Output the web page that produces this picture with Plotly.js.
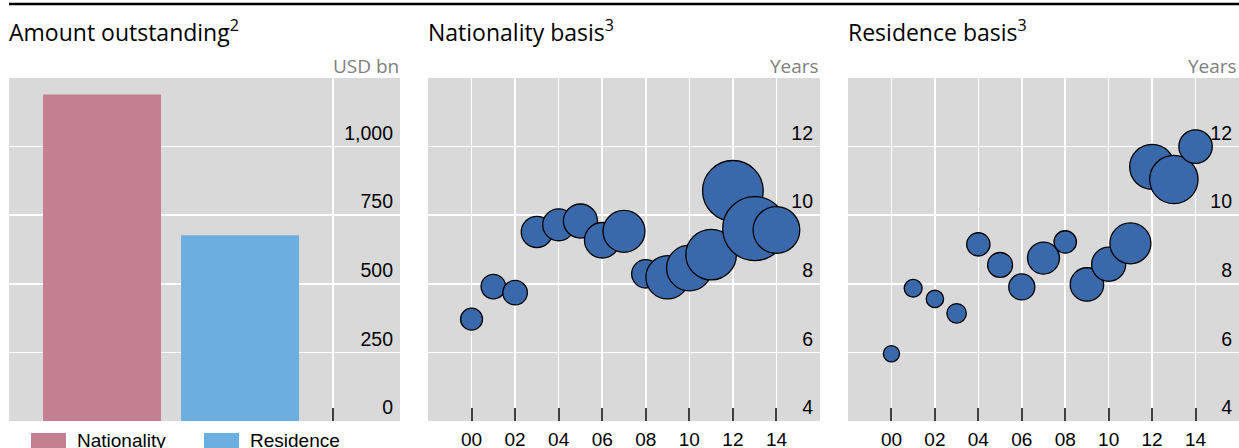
<!DOCTYPE html>
<html>
<head>
<meta charset="utf-8">
<script src="https://cdn.plot.ly/plotly-3.0.1.min.js"></script>
<style>html,body{margin:0;padding:0;background:#fff;}#chart{width:1239px;height:448px;}</style>
</head>
<body>
<div id="chart"></div>
<script>
// ---- Data ----
const amountCategories = ["Nationality", "Residence"];
const amountOutstanding = [1190, 677];          // USD bn

const years = [2000, 2001, 2002, 2003, 2004, 2005, 2006, 2007, 2008, 2009, 2010, 2011, 2012, 2013, 2014];
const nationalityMaturity = [6.97, 7.92, 7.74, 9.51, 9.72, 9.83, 9.27, 9.53, 8.29, 8.19, 8.46, 8.85, 10.71, 9.61, 9.57]; // years
const nationalityIssuance = [24, 30, 30, 49, 51, 58, 63, 88, 40, 94, 104, 128, 184, 205, 109];                          // bubble size
const residenceMaturity = [5.96, 7.87, 7.56, 7.14, 9.15, 8.55, 7.91, 8.75, 9.22, 7.98, 8.57, 9.18, 11.41, 11.04, 12.0];
const residenceIssuance = [13, 16, 15, 19, 27, 31, 34, 51, 25, 56, 58, 84, 101, 117, 56];

const amountTicks = [0, 250, 500, 750, 1000];
const maturityTicks = [4, 6, 8, 10, 12];
const yearTicks = [2000, 2002, 2004, 2006, 2008, 2010, 2012, 2014];
const yearTickText = yearTicks.map(y => String(y).slice(2));

// ---- Styles ----
const W = 1239, H = 448;
const barColors = ["#c48090", "#6caee0"];
const colBubble = "#3969ab";
const bg = "#d9d9d9";
const tickFont = {family: "Liberation Sans, Arial, sans-serif", size: 19.5, color: "#000"};
const legendFont = {family: "Liberation Sans, Arial, sans-serif", size: 19, color: "#000"};
const titleFont = {family: "Open Sans, sans-serif", size: 23, color: "#000"};
const unitFont = {family: "Open Sans, sans-serif", size: 19, color: "#808080"};

const yDom = [1 - 421 / H, 1 - 78 / H];
const px = v => v / W;
const py = v => 1 - v / H;

const bubbleMarker = (sizes) => ({
  size: sizes, sizemode: "area", sizeref: 0.1,
  color: colBubble, opacity: 1,
  line: {color: "#000", width: 1.3}
});

const traces = [
  {type: "bar", name: amountCategories[0], x: [0], y: [amountOutstanding[0]], width: 0.855,
   marker: {color: barColors[0]}, xaxis: "x", yaxis: "y", hoverinfo: "y", showlegend: false},
  {type: "bar", name: amountCategories[1], x: [1], y: [amountOutstanding[1]], width: 0.855,
   marker: {color: barColors[1]}, xaxis: "x", yaxis: "y", hoverinfo: "y", showlegend: false},
  {type: "scatter", mode: "markers", name: "Nationality basis", x: years, y: nationalityMaturity,
   marker: bubbleMarker(nationalityIssuance), xaxis: "x2", yaxis: "y2", showlegend: false, cliponaxis: true},
  {type: "scatter", mode: "markers", name: "Residence basis", x: years, y: residenceMaturity,
   marker: bubbleMarker(residenceIssuance), xaxis: "x3", yaxis: "y3", showlegend: false, cliponaxis: true}
];

const baseX = {
  showgrid: true, gridcolor: "#fff", gridwidth: 1.5, zeroline: false,
  showline: true, linecolor: "#fff", linewidth: 2,
  ticks: "inside", ticklen: 13, tickwidth: 2, tickcolor: "#404040",
  tickfont: legendFont, fixedrange: true
};
const baseY = {
  domain: yDom, side: "right", showgrid: true, gridcolor: "#fff", gridwidth: 1.5,
  zeroline: false, showline: false, ticks: "", ticklabelposition: "inside top",
  ticklabelstandoff: 4, ticklabelshift: -1.5,
  tickfont: tickFont, fixedrange: true
};

// legend (drawn as swatches + labels below the first panel)
const legendSwatchX = [31, 204];
const legendShapes = amountCategories.map((c, i) => ({
  type: "rect", xref: "paper", yref: "paper",
  x0: px(legendSwatchX[i]), x1: px(legendSwatchX[i] + 35), y0: py(448), y1: py(433),
  fillcolor: barColors[i], line: {width: 0}
}));
const legendLabels = amountCategories.map((c, i) => ({
  text: c, xref: "paper", yref: "paper", x: px(legendSwatchX[i] + 44), y: py(440),
  xanchor: "left", yanchor: "middle", showarrow: false, font: legendFont
}));

const layout = {
  width: W, height: H,
  margin: {l: 0, r: 0, t: 0, b: 0, pad: 0, autoexpand: false},
  paper_bgcolor: "#fff", plot_bgcolor: bg,
  barmode: "overlay",
  showlegend: false,
  xaxis: Object.assign({}, baseX, {domain: [px(9), px(400)], range: [-0.674, 2.159],
          tickmode: "array", tickvals: [1.674], showticklabels: false, anchor: "y"}),
  yaxis: Object.assign({}, baseY, {range: [0, 1250], tickmode: "array", tickvals: amountTicks,
          tickformat: ",", anchor: "x"}),
  xaxis2: Object.assign({}, baseX, {domain: [px(428), px(820)], range: [1998, 2016],
          tickmode: "array", tickvals: yearTicks, ticktext: yearTickText, anchor: "y2"}),
  yaxis2: Object.assign({}, baseY, {range: [4, 14], tickmode: "array", tickvals: maturityTicks, anchor: "x2"}),
  xaxis3: Object.assign({}, baseX, {domain: [px(848), 1], range: [1998, 2016],
          tickmode: "array", tickvals: yearTicks, ticktext: yearTickText, anchor: "y3"}),
  yaxis3: Object.assign({}, baseY, {range: [4, 14], tickmode: "array", tickvals: maturityTicks, anchor: "x3"}),
  shapes: [
    {type: "line", xref: "paper", yref: "paper", x0: px(9), x1: 1, y0: py(4), y1: py(4),
     line: {color: "#000", width: 2.5}}
  ].concat(legendShapes),
  annotations: [
    {text: "Amount outstanding<sup>2</sup>", xref: "paper", yref: "paper", x: px(7), y: py(31),
     xanchor: "left", yanchor: "middle", showarrow: false, font: titleFont},
    {text: "Nationality basis<sup>3</sup>", xref: "paper", yref: "paper", x: px(426), y: py(31),
     xanchor: "left", yanchor: "middle", showarrow: false, font: titleFont},
    {text: "Residence basis<sup>3</sup>", xref: "paper", yref: "paper", x: px(846), y: py(31),
     xanchor: "left", yanchor: "middle", showarrow: false, font: titleFont},
    {text: "USD bn", xref: "paper", yref: "paper", x: px(401), y: py(66),
     xanchor: "right", yanchor: "middle", showarrow: false, font: unitFont},
    {text: "Years", xref: "paper", yref: "paper", x: px(821), y: py(66),
     xanchor: "right", yanchor: "middle", showarrow: false, font: unitFont},
    {text: "Years", xref: "paper", yref: "paper", x: 1, y: py(66),
     xanchor: "right", yanchor: "middle", showarrow: false, font: unitFont}
  ].concat(legendLabels)
};

Plotly.newPlot("chart", traces, layout, {displayModeBar: false, staticPlot: true});
</script>
</body>
</html>
